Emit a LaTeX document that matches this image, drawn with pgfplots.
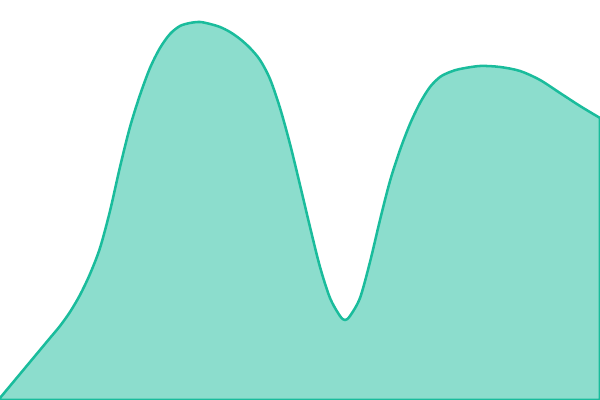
\documentclass[border=0pt]{standalone}
\usepackage{pgfplots}
\pgfplotsset{compat=1.18}
\definecolor{turq}{HTML}{1ABC9C}
\begin{document}
\begin{tikzpicture}
\path[use as bounding box] (0,0) rectangle (15cm,10cm);
\clip (0,0) rectangle (15cm,10cm);
\begin{axis}[
  at={(0,0)}, anchor=south west,
  scale only axis, width=15cm, height=10cm,
  xmin=0, xmax=600, ymin=0, ymax=400,
  hide axis,
]
\addplot[smooth, tension=0.5, draw=turq, line width=1.8pt, fill=turq, fill opacity=0.5, draw opacity=1] coordinates {
  (0,2)(10,14)(20,26)(30,38)(40,50)(50,62)(60,74)(70,88)(80,105)(90,126)
  (100,152)(110,189)(120,233)(130,273)(140,305)(150,332)(160,352)(170,366)(180,374)(190,377)
  (200,378)(210,376)(220,373)(230,368)(240,361)(250,352)(260,340)(270,321)(280,292)(290,256)
  (300,215)(310,173)(320,133)(330,102)(340,84)(345,80)(350,84)(360,102)(370,138)(380,180)
  (390,219)(400,250)(410,276)(420,297)(430,313)(440,323)(450,328)(460,331)(480,334)(500,333)
  (520,329)(540,320)(560,307)(580,294)(600,282)
} \closedcycle;
\end{axis}
\end{tikzpicture}
\end{document}
